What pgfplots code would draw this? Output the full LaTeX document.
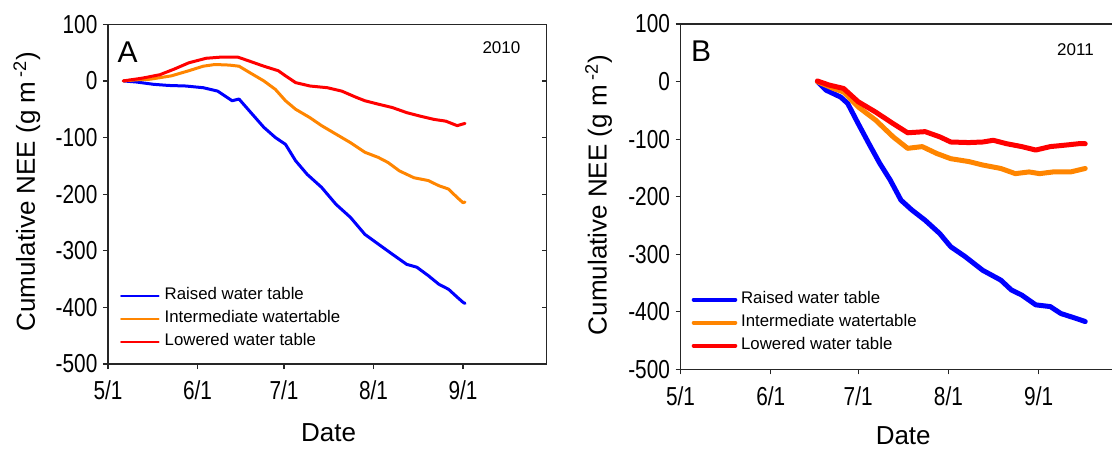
\documentclass[border=0pt]{standalone}
\usepackage{pgfplots}
\pgfplotsset{compat=1.18}
\usepackage{pgfplotstable}
\usepackage{fontspec}
\setmainfont{Liberation Sans}

\definecolor{raised}{RGB}{0,0,255}
\definecolor{inter}{RGB}{255,133,0}
\definecolor{lowered}{RGB}{255,0,0}

% days since 1 May, cumulative NEE (g m-2)
\pgfplotstableread{
day nee
5.3 0
10 -2
15.8 -6
21 -8
27 -9
33 -12
38 -18
43 -35
45.4 -32
49 -53
54 -82
58 -100
61.5 -112
65 -141
69 -165
74 -188
79 -218
84 -241
89 -271
93.6 -288
98.5 -306
103.5 -324
107 -329
111 -344
114.6 -359
118 -368
121 -382
123 -391
123.7 -393
}\raisedA
\pgfplotstableread{
day nee
5.3 0
10 2
14.6 3
22 9
28 18
33 26
37 29
42 28
45.4 26
49 15
54 0
58 -15
61.5 -35
65 -50
70 -65
74 -79
79 -94
84 -109
89 -126
93.6 -135
97 -144
101 -159
106 -171
111 -176
114.6 -185
118 -191
121 -206
123 -215
123.7 -214
}\interA
\pgfplotstableread{
day nee
5.3 0
12 5
18 11
23 21
28 32
34 40
39 42
45 42
49 35
54 26
59 18
61.5 9
65 -3
70 -9
76 -12
81 -18
86 -29
89 -35
93.6 -41
98.5 -47
103.5 -56
108 -62
113 -68
117 -71
121 -79
123 -76
123.7 -75
}\loweredA
\pgfplotstableread{
day nee
47 0
50 -15
55 -27
57.4 -38
61 -73
64.7 -108
68.4 -142
72 -171
75.7 -206
79.4 -223
84 -241
89 -264
92.8 -287
97.7 -304
103.8 -328
110 -345
113.6 -362
117.2 -371
122 -388
127 -391
130.6 -403
135.5 -411
139 -417
}\raisedB
\pgfplotstableread{
day nee
47 0
52.5 -12
56 -18
61 -44
67 -67
73 -96
78 -116
83 -113
88 -125
92.8 -134
99 -139
103.8 -145
110 -151
115 -160
119.7 -157
123.3 -160
128 -157
134 -157
139 -151
}\interB
\pgfplotstableread{
day nee
47 1
51 -6
56 -12
61 -35
67 -53
73 -73
78 -89
84 -87
89 -96
92.8 -105
99 -106
103.8 -105
107.4 -102
112 -108
117.2 -113
122 -119
127 -113
133 -110
136.7 -108
139 -108
}\loweredB

\pgfplotsset{
  neeaxis/.style={
    scale only axis, enlargelimits=false,
    xmin=0, ymin=-500, ymax=100,
    xtick={0,31,61,92,123}, xticklabels={5/1,6/1,7/1,8/1,9/1},
    ytick={-500,-400,...,100},
    tick align=outside, major tick length=2.5pt,
    xtick pos=bottom, ytick pos=left,
    axis line style={line width=0.6pt, black!85},
    every tick/.style={line width=0.6pt, black!85},
    /pgf/number format/assume math mode=true,
    tick label style={font=\fontsize{13}{15}\selectfont, xscale=0.8},
    xticklabel style={yshift=-2.5pt},
    label style={font=\fontsize{13}{15}\selectfont},
    xlabel={Date}, ylabel={Cumulative NEE (g m\,\textsuperscript{-2})},
    legend cell align=left,
    legend style={draw=none, fill=none, inner sep=0pt, row sep=1.8pt,
      font=\fontsize{8.4}{10}\selectfont,
      nodes={inner sep=1pt, text height=6pt, text depth=1.7pt}},
    every axis plot/.append style={line join=round, line cap=round},
  },
}

\begin{document}
\begin{tikzpicture}
\useasboundingbox (-54pt,-44pt) rectangle (502pt,182pt);

% panel A (2010)
\begin{axis}[neeaxis,
  at={(0,0)}, anchor=south west,
  width=219.35pt, height=169.85pt, xmax=152,
  xlabel style={at={(axis description cs:0.503,-0.203)}, anchor=center},
  ylabel style={at={(axis description cs:-0.185,0.508)}, anchor=center},
  legend style={at={(axis description cs:0.0267,0.231)}, anchor=north west, column sep=1.5pt},
  legend image code/.code={\draw[#1, line width=1pt] (0pt,0pt) -- (18.8pt,0pt);},
]
\addplot[raised, line width=1.5pt] table[x=day, y=nee] {\raisedA};
\addplot[inter, line width=1.5pt] table[x=day, y=nee] {\interA};
\addplot[lowered, line width=1.5pt] table[x=day, y=nee] {\loweredA};
\legend{Raised water table, Intermediate watertable, Lowered water table}
\node[anchor=west, font=\fontsize{15}{17}\selectfont] at (rel axis cs:0.006,0.918) {A};
\node[anchor=east, font=\fontsize{8.5}{10}\selectfont] at (rel axis cs:0.956,0.930) {2010};
\end{axis}

% inward ticks on the right edge of panel A
\begin{axis}[
  at={(0,0)}, anchor=south west, scale only axis,
  width=219.35pt, height=169.85pt,
  xmin=0, xmax=152, ymin=-500, ymax=100,
  axis x line=none, axis y line*=right,
  axis line style={draw=none},
  ytick={-500,-400,...,100}, yticklabels={},
  tick align=inside, major tick length=2.5pt,
  every tick/.style={line width=0.6pt, black!85},
]
\end{axis}

% panel B (2011)
\begin{axis}[neeaxis,
  at={(286.3pt,-2.65pt)}, anchor=south west,
  width=215.7pt, height=172.65pt, xmax=148.2,
  axis x line*=box, axis y line*=left,
  xlabel style={at={(axis description cs:0.516,-0.192)}, anchor=center},
  ylabel style={at={(axis description cs:-0.19,0.505)}, anchor=center},
  legend style={at={(axis description cs:0.0248,0.231)}, anchor=north west, column sep=0.9pt},
  legend image code/.code={\draw[#1, line width=2pt] (0pt,0pt) -- (20.8pt,0pt);},
]
\addplot[raised, line width=2.5pt] table[x=day, y=nee] {\raisedB};
\addplot[inter, line width=2.5pt] table[x=day, y=nee] {\interB};
\addplot[lowered, line width=2.5pt] table[x=day, y=nee] {\loweredB};
\legend{Raised water table, Intermediate watertable, Lowered water table}
\node[anchor=west, font=\fontsize{15}{17}\selectfont] at (rel axis cs:0.008,0.92) {B};
\node[anchor=east, font=\fontsize{8.5}{10}\selectfont] at (rel axis cs:0.974,0.925) {2011};
\end{axis}
\end{tikzpicture}
\end{document}
